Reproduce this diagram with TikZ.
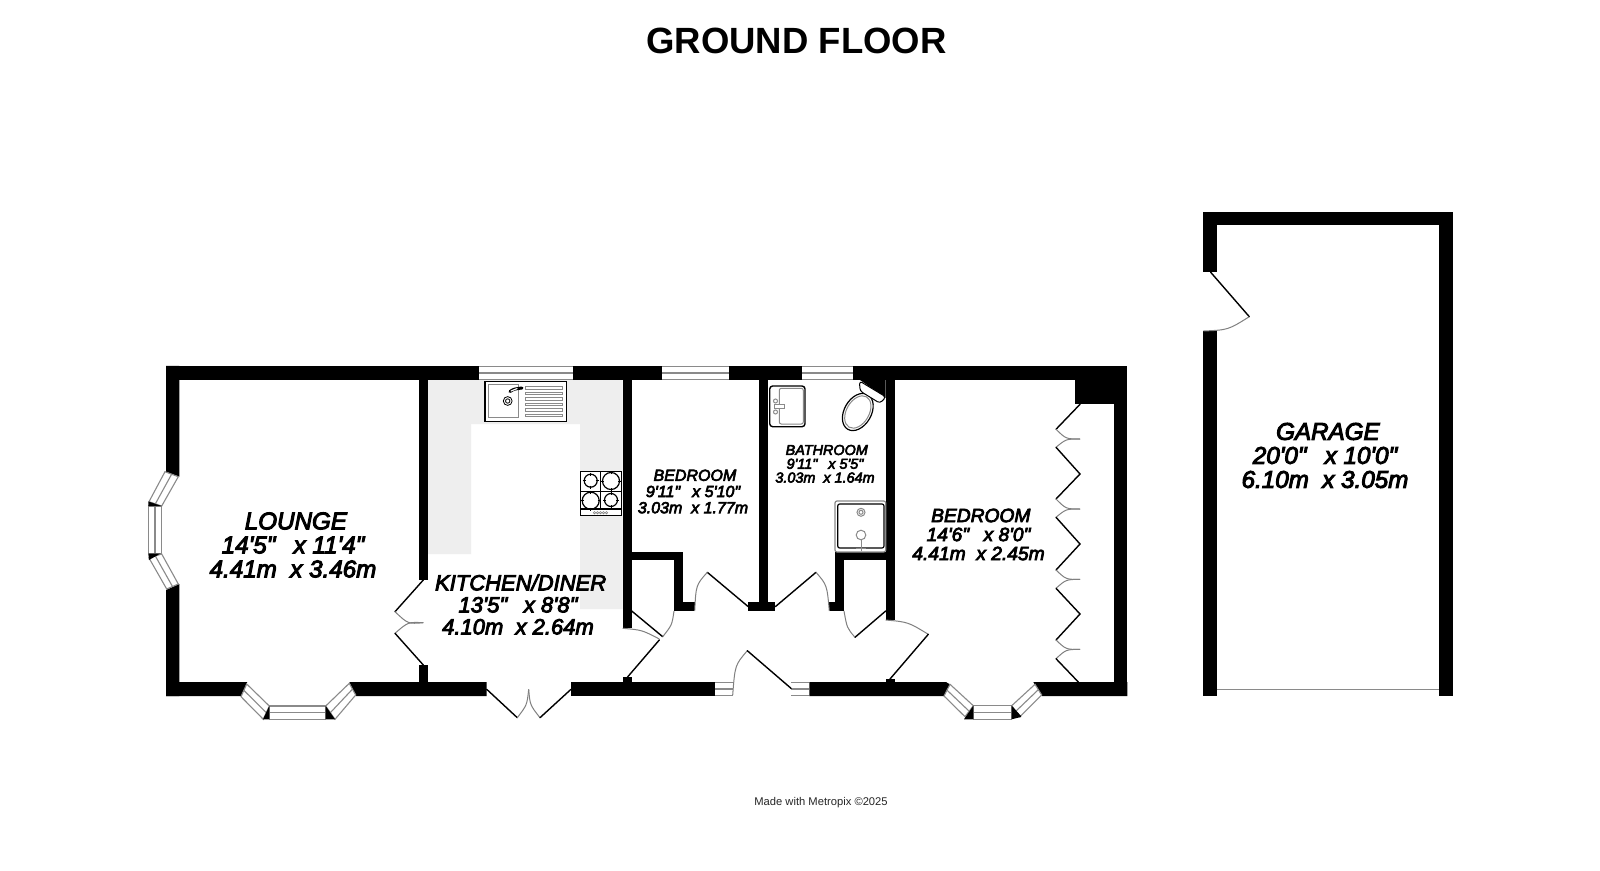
\documentclass[tikz,border=0pt]{standalone}
\usepackage{fontspec}
\setmainfont{Liberation Sans}
\newfontfamily\roomf[FakeBold=4]{Liberation Sans Italic}
\newfontfamily\titlef{Liberation Sans Bold}
\usetikzlibrary{calc}
\definecolor{wingray}{HTML}{8A8A8A}
\definecolor{arcgray}{HTML}{808080}
\definecolor{unitgray}{HTML}{EEEEEE}
\tikzset{
  wallfill/.style={fill=black,draw=none},
  win/.style={fill=white,draw=wingray,line width=.55pt},
  winline/.style={draw=wingray,line width=.55pt},
  leaf/.style={draw=black,line width=.7pt,line cap=round},
  swing/.style={draw=arcgray,line width=.5pt},
  fix/.style={draw=black,line width=.6pt,fill=white},
  fixg/.style={draw=wingray,line width=.5pt},
  roomlabel/.style={align=center,inner sep=0pt,text=black,anchor=center},
}
\newcommand{\wallrect}[4]{\fill[wallfill] (#1,#2) rectangle (#3,#4);}
\newcommand{\hwin}[2]{%
  \fill[white] (#1,366) rectangle (#2,380);
  \draw[winline] (#1,366.4) -- (#2,366.4) (#1,379.4) -- (#2,379.4);
  \draw[winline,line width=.75pt] (#1,372.8) -- (#2,372.8);}
\newcommand{\dwin}[2]{%
  \fill[white] (#1,682) rectangle (#2,696);
  \draw[winline] (#1,682.4) -- (#2,682.4) (#1,695.6) -- (#2,695.6) (#1,689) -- (#2,689);}
\newcommand{\baywin}[4]{%
  \draw[win] (#1) -- (#2) -- (#3) -- (#4) -- cycle;
  \draw[winline] ($(#1)!.5!(#4)$) -- ($(#2)!.5!(#3)$);}
\newcommand{\firstline}{\hspace*{.24em}}
\newcommand{\qgap}{\hspace{.2em}}
\newcommand{\hobring}[3]{%
  \draw[black,line width=.6pt] (#1,#2) circle (#3);
  \draw[black,line width=.35pt] (#1,#2-#3-1.5) -- (#1,#2-#3+1.5) (#1,#2+#3-1.5) -- (#1,#2+#3+1.5)
    (#1-#3-1.5,#2) -- (#1-#3+1.5,#2) (#1+#3-1.5,#2) -- (#1+#3+1.5,#2);}
\begin{document}
\begin{tikzpicture}[x=.5pt,y=-.5pt]
\useasboundingbox (0,0) rectangle (1600,871);
\fill[white] (0,0) rectangle (1600,871);

% kitchen units
\fill[unitgray] (427.5,380) -- (622.5,380) -- (622.5,609) -- (580,609) -- (580,424) -- (471,424) -- (471,554) -- (427.5,554) -- cycle;

% top wall and outer walls
\wallrect{166}{366}{1127.3}{380}
\fill[wallfill] (166,366) -- (166,471.7) -- (179.3,476.7) -- (179.3,366) -- cycle;
\fill[wallfill] (166,590) -- (179.3,584) -- (179.3,696) -- (166,696) -- cycle;
\wallrect{1114}{366}{1127.3}{696}
% bottom walls
\fill[wallfill] (166,682) -- (247.3,682) -- (241,696) -- (166,696) -- cycle;
\fill[wallfill] (349.3,682) -- (486.7,682) -- (486.7,696) -- (355.7,696) -- cycle;
\wallrect{571}{682}{715}{696}
\fill[wallfill] (809.3,682) -- (946,682) -- (951.7,685.5) -- (944,696) -- (809.3,696) -- cycle;
\fill[wallfill] (1033.3,682) -- (1127.3,682) -- (1127.3,696) -- (1041.7,696) -- cycle;
% inner walls
\wallrect{418.7}{366}{427.5}{580}
\wallrect{419}{665}{427.5}{690}
\wallrect{622.7}{366}{631.7}{628.3}
\wallrect{622.7}{677.3}{631.7}{690}
\wallrect{622.7}{551.7}{682.7}{560}
\wallrect{674}{551.7}{682.7}{611}
\wallrect{674}{602.3}{694.5}{611}
\wallrect{759.3}{366}{768.3}{611}
\wallrect{748.3}{602.3}{775.3}{611}
\wallrect{829.3}{602.3}{844}{611}
\wallrect{835}{551.7}{895}{560}
\wallrect{835}{551.7}{843.5}{611}
\wallrect{885.7}{366}{895}{620}
\wallrect{885.7}{679}{895}{690}
\wallrect{1075.3}{380}{1113.5}{403.7}

% windows
\hwin{479}{573}
\hwin{662.3}{729}
\hwin{802}{853.3}
\dwin{715}{732.7}
\dwin{791}{809.3}
% left bay
\baywin{165,471.7}{149,501.7}{161.7,506}{178.3,476.7}
\baywin{148.3,506}{148.3,553.5}{161.7,553.5}{161.7,506}
\baywin{149,558}{166.7,589}{178.3,584}{161.7,554}
\fill[black] (148.3,501.5) -- (161.7,506) -- (148.3,506) -- cycle;
\fill[black] (148.3,553.5) -- (160.5,553.5) -- (149,560) -- cycle;
% lounge bottom bay
\baywin{246.7,684}{269.3,706}{263.3,719.3}{241,696.7}
\baywin{269.3,706}{325.7,706}{325.7,719.3}{269.3,719.3}
\baywin{325.7,706}{349.3,683.3}{355.7,695}{335,719.3}
\fill[black] (263,719.3) -- (269.3,706) -- (269.3,719.3) -- cycle;
\fill[black] (325.7,706) -- (325.7,719.3) -- (335,719.3) -- cycle;
% bedroom bottom bay
\baywin{950,684.3}{973.3,705.7}{965,716.7}{944,696}
\baywin{973.3,705.7}{1011.7,705.7}{1011.7,719.3}{973.3,719.3}
\baywin{1011.7,705.7}{1035,684.3}{1041.7,695}{1020,716.7}
\fill[black] (964,719.3) -- (973.3,705.7) -- (973.3,719.3) -- cycle;
\fill[black] (1011.7,705.7) -- (1011.7,719.3) -- (1021,717) -- (1021,716) -- cycle;

% doors: lounge / kitchen bifold
\draw[leaf] (423.3,580) -- (395,611.7);
\draw[swing] (395,611.7) .. controls (408,624) .. (423.3,622.7);
\draw[swing] (395,633.3) .. controls (408,622) .. (423.3,622.7);
\draw[leaf] (395,633.3) -- (423.3,665);
% french doors
\draw[leaf] (486.7,689.3) -- (517.3,717.7);
\draw[swing] (517.3,717.7) .. controls (527,705) .. (528.7,689.3);
\draw[swing] (540,717.7) .. controls (530,705) .. (528.7,689.3);
\draw[leaf] (540,717.7) -- (571,689.3);
% kitchen door and closet
\draw[swing] (622.7,628.3) .. controls (642,630) .. (659.3,639);
\draw[leaf] (659.3,640) -- (627.3,677.3);
\draw[leaf] (631.7,611) -- (662.7,636.7);
\draw[swing] (662.7,636.7) .. controls (672,625) .. (674,611);
% bedroom and bath doors
\draw[leaf] (748.3,606.7) -- (707.3,572.3);
\draw[swing] (707.3,572.3) .. controls (696,585) .. (694.7,611);
\draw[leaf] (775.3,606.7) -- (816,572.3);
\draw[swing] (816,572.3) .. controls (827,585) .. (829.3,611);
\draw[leaf] (885.7,611) -- (855,637.3);
\draw[swing] (855,637.3) .. controls (847,628) .. (844,611);
\draw[swing] (885.7,620) .. controls (908,622) .. (928.3,634.3);
\draw[leaf] (928.3,634.3) -- (890,679);
% entrance
\draw[swing] (732.7,695) .. controls (735,665) .. (747.3,650.7);
\draw[leaf] (747.3,650.7) -- (791,688.3);
% wardrobe
\draw[leaf] (1080,404.3) -- (1056,429.3);
\draw[swing] (1056,429.3) .. controls (1066,439) .. (1080,439);
\draw[swing] (1056,447.3) .. controls (1066,439) .. (1080,439);
\draw[leaf] (1056,447.3) -- (1080,474) -- (1056,499);
\draw[swing] (1056,499) .. controls (1066,509) .. (1080,509);
\draw[swing] (1056,517.3) .. controls (1066,509) .. (1080,509);
\draw[leaf] (1056,517.3) -- (1080,544) -- (1056,570);
\draw[swing] (1056,570) .. controls (1066,579.5) .. (1080,579.3);
\draw[swing] (1056,588.3) .. controls (1066,579.5) .. (1080,579.3);
\draw[leaf] (1056,588.3) -- (1080,614) -- (1056,640);
\draw[swing] (1056,640) .. controls (1066,649.5) .. (1080,649.3);
\draw[swing] (1056,658.7) .. controls (1066,649.5) .. (1080,649.3);
\draw[leaf] (1056,658.7) -- (1078.3,682);

% sink
\draw[fix,line width=.7pt] (485,381.7) rectangle (566.3,421.7);
\draw[fixg] (488.7,385) rectangle (518.3,417.7);
\draw[fixg,draw=black,line width=.4pt] (507.7,401) circle (4.4);
\draw[fixg,draw=black,line width=.4pt] (507.7,401) circle (2.2);
\foreach \yy in {386.7,392.2,397.7,403.2,408.7,414.2}{\draw[fixg] (525.7,\yy) rectangle (562.3,\yy+2.8);}
\draw[black,line width=1.5pt,line cap=round] (510,391.5) .. controls (514,389) .. (522,388);
\draw[white,line width=.6pt,line cap=round] (511,391) .. controls (514,389.2) .. (517,388.6);
% hob
\draw[fix] (580.3,471.7) rectangle (621.7,515.7);
\draw[draw=black,line width=.5pt] (600.7,471.7) -- (600.7,509) (580.3,491) -- (621.7,491);
\draw[draw=black,line width=.6pt] (580.3,509) -- (621.7,509);
\hobring{590.7}{480.7}{6.5}
\hobring{611}{481}{8.5}
\hobring{590.7}{500.7}{8.5}
\hobring{611}{500}{6.5}
\foreach \xx in {594.5,597.5,600.5,603.5,606.5}{\draw[fixg,line width=.3pt] (\xx,512.7) circle (1.2);}

% bathroom basin
\draw[fix,rounded corners=1.5pt,line width=.7pt] (769.7,386) rectangle (805,426.7);
\draw[fixg,rounded corners=1pt] (779.3,388.3) rectangle (803.3,424);
\draw[fixg,fill=white] (774,404.5) rectangle (784,408.5);
\draw[fixg,fill=white] (775.5,401) circle (2) (775.5,412) circle (2);
% toilet
\fill[black] (860,380) -- (885.7,380) -- (885.7,398) -- cycle;
\draw[fix,rotate around={-30:(857.8,412)}] (857.8,412) ellipse (13.5 and 20);
\draw[fixg,rotate around={-30:(857.8,412)}] (857.8,412) ellipse (11.3 and 17.5);
\draw[fix,rounded corners=1.5pt,line width=.5pt] (859.5,381) -- (886,397) -- (880,403.3) -- (860,391) -- cycle;
% shower
\draw[fix,draw=wingray,rounded corners=1pt] (835,501) rectangle (885.7,552);
\draw[fix,rounded corners=1pt] (837.7,504) rectangle (884,548);
\draw[fixg] (861,512.3) circle (4) (861,512.3) circle (2);
\draw[fixg] (861,535) circle (4.8);
\draw[fixg] (861,539.8) -- (861,551);
\draw[fixg] (856,548) -- (866,548);

% garage
\wallrect{1203.3}{211.7}{1452.7}{225}
\wallrect{1203.3}{211.7}{1217.3}{272.3}
\wallrect{1203.3}{331}{1217.3}{696}
\wallrect{1439.3}{211.7}{1452.7}{696}
\draw[draw=wingray,line width=.75pt] (1217.3,689.3) -- (1439.3,689.3);
\draw[leaf] (1210.7,272.3) -- (1249.3,316.7);
\draw[swing] (1249.3,316.7) .. controls (1228,330) .. (1203.3,331);

% texts
\node[inner sep=0pt,font={\titlef\fontsize{18.25}{18}\selectfont}] (title) at (796.5,40.6) {GROUND FLOOR};
\node[inner sep=0pt,text=black!85,font={\fontsize{5.6}{6}\selectfont}] (credit) at (821,802.5) {Made with Metropix ©2025};
\node[roomlabel,font={\roomf\fontsize{12.1}{12}\selectfont}] (lounge) at (293,545) {\firstline LOUNGE\\14'5"\qgap~~x 11'4"\\4.41m~~x 3.46m};
\node[roomlabel,font={\roomf\fontsize{11}{11}\selectfont}] (kitchen) at (518,604.5) {\firstline KITCHEN/DINER\\13'5"\qgap~~x 8'8"\\4.10m~~x 2.64m};
\node[roomlabel,font={\roomf\fontsize{8}{8.1}\selectfont}] (bed1) at (693,491.5) {\firstline BEDROOM\\9'11"\qgap~~x 5'10"\\3.03m~~x 1.77m};
\node[roomlabel,font={\roomf\fontsize{7.2}{6.9}\selectfont}] (bath) at (825,463.8) {\firstline BATHROOM\\9'11"\qgap~~x 5'5"\\3.03m~~x 1.64m};
\node[roomlabel,font={\roomf\fontsize{9.6}{9.5}\selectfont}] (bed2) at (978.5,534.5) {\firstline BEDROOM\\14'6"\qgap~~x 8'0"\\4.41m~~x 2.45m};
\node[roomlabel,font={\roomf\fontsize{12.1}{12}\selectfont}] (garage) at (1325,455.5) {\firstline GARAGE\\20'0"\qgap~~x 10'0"\\6.10m~~x 3.05m};
\end{tikzpicture}
\end{document}
